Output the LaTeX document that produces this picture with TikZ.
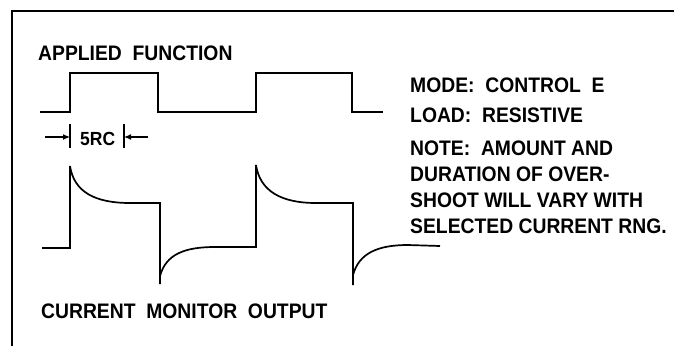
\documentclass[tikz,border=0pt]{standalone}
\usepackage{fontspec}
\setmainfont{Liberation Sans}
\newfontfamily\lblfont{Liberation Sans}[FakeStretch=0.92]
\usetikzlibrary{arrows.meta}
\begin{document}
\begin{tikzpicture}[x=1pt,y=-1pt,
  wave/.style={line width=1.7pt,line join=miter},
  frame/.style={line width=1.8pt},
  lbl/.style={anchor=base west,inner sep=0pt,font=\lblfont\bfseries\fontsize{21}{26}\selectfont},
  dim/.style={line width=1.2pt,-{Latex[length=7pt,width=6pt]}},
  tick/.style={line width=1.2pt}]
\useasboundingbox (0,0) rectangle (674,346);
\fill[white] (0,0) rectangle (674,346);
% frame
\draw[frame] (12,346) -- (12,11) -- (674,11);
% labels
\node[lbl] (applied) at (38,60) {APPLIED\ \ FUNCTION};
\node[lbl] (current) at (41,318) {CURRENT\ \ MONITOR\ \ OUTPUT};
\node[lbl] (mode) at (410,92) {MODE:\ \ CONTROL\ \ E};
\node[lbl] (load) at (410,122) {LOAD:\ \ RESISTIVE};
\node[lbl,align=left,anchor=north west] (note) at (410,141) {NOTE:\ \ AMOUNT AND\\DURATION OF OVER-\\SHOOT WILL VARY WITH\\SELECTED CURRENT RNG.};
\node[lbl,font=\lblfont\bfseries\fontsize{19}{20}\selectfont] (rc) at (80,145) {5RC};
% applied function
\draw[wave] (40,112) -- (70,112) -- (70,73) -- (158,73) -- (158,112) -- (256,112) -- (256,73) -- (352,73) -- (352,112) -- (383,112);
% 5RC dimension
\coordinate (t1a) at (70,124); \coordinate (t1b) at (70,148);
\coordinate (t2a) at (124,124); \coordinate (t2b) at (124,148);
\coordinate (a1) at (45,137); \coordinate (a1e) at (70,137);
\coordinate (a2) at (148,137); \coordinate (a2e) at (124,137);
\draw[tick] (t1a) -- (t1b);
\draw[tick] (t2a) -- (t2b);
\draw[dim] (a1) -- (a1e);
\draw[dim] (a2) -- (a2e);
% current monitor output
\draw[wave] (42,248) -- (70,248) -- (70,166)
  .. controls (74,192) and (95,203) .. (130,203) -- (160,203) -- (160,284);
\draw[wave] (160,276) .. controls (166,254) and (185,247) .. (215,247) -- (256,247) -- (256,165)
  .. controls (260,191) and (281,203) .. (316,203) -- (353,203) -- (353,285);
\draw[wave] (353,275) .. controls (359,253) and (378,245) .. (408,245) -- (440,246);
\end{tikzpicture}
\end{document}
